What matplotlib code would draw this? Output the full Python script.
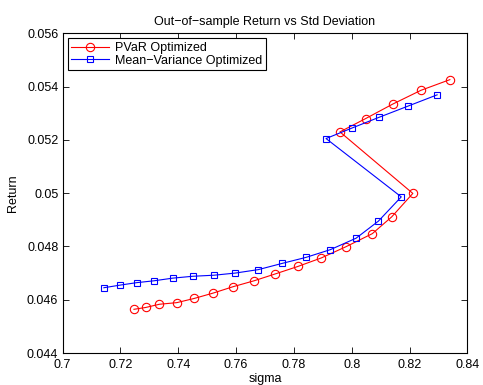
import matplotlib
matplotlib.use('Agg')
import matplotlib.pyplot as plt

# out-of-sample results
pvar_sigma = [0.7247, 0.7288, 0.7335, 0.7395, 0.7456, 0.7521, 0.7590, 0.7662, 0.7736, 0.7814,
              0.7895, 0.7980, 0.8071, 0.8138, 0.8211, 0.7959, 0.8048, 0.8141, 0.8239, 0.8339]
pvar_ret = [0.04564, 0.04571, 0.04583, 0.04589, 0.04605, 0.04625, 0.04649, 0.04671, 0.04697, 0.04725,
            0.04757, 0.04799, 0.04848, 0.04911, 0.04999, 0.05230, 0.05280, 0.05334, 0.05386, 0.05426]

mv_sigma = [0.7143, 0.7200, 0.7256, 0.7316, 0.7381, 0.7450, 0.7524, 0.7597, 0.7677, 0.7758,
            0.7842, 0.7926, 0.8015, 0.8092, 0.8171, 0.7911, 0.8002, 0.8095, 0.8195, 0.8295]
mv_ret = [0.04645, 0.04655, 0.04664, 0.04671, 0.04681, 0.04688, 0.04692, 0.04700, 0.04713, 0.04736,
          0.04759, 0.04788, 0.04831, 0.04895, 0.04986, 0.05205, 0.05245, 0.05285, 0.05327, 0.05369]

xticks = [0.7, 0.72, 0.74, 0.76, 0.78, 0.8, 0.82, 0.84]
xticklabels = ['0.7', '0.72', '0.74', '0.76', '0.78', '0.8', '0.82', '0.84']
yticks = [0.044, 0.046, 0.048, 0.05, 0.052, 0.054, 0.056]
yticklabels = ['0.044', '0.046', '0.048', '0.05', '0.052', '0.054', '0.056']

plt.rcParams['font.family'] = ['Liberation Sans', 'DejaVu Sans']
plt.rcParams['font.size'] = 9

fig = plt.figure(figsize=(4.83, 3.85), dpi=100)
ax = fig.add_axes([0.1294, 0.0831, 0.8385, 0.8304])

ax.plot(pvar_sigma, pvar_ret, color='red', lw=0.8, marker='o', ms=6,
        mfc='none', mec='red', mew=0.8, label='PVaR Optimized')
ax.plot(mv_sigma, mv_ret, color='blue', lw=0.8, marker='s', ms=5,
        mfc='none', mec='blue', mew=0.8, label='Mean\u2212Variance Optimized')

ax.set_xlim(0.7, 0.84)
ax.set_ylim(0.044, 0.056)
ax.set_xticks(xticks)
ax.set_xticklabels(xticklabels)
ax.set_yticks(yticks)
ax.set_yticklabels(yticklabels)
ax.tick_params(direction='in', top=True, right=True, length=4, width=0.6)
ax.tick_params(axis='x', pad=4)
ax.tick_params(axis='y', pad=3)
for s in ax.spines.values():
    s.set_linewidth(0.8)

ax.set_xlabel('sigma', labelpad=2)
ax.set_ylabel('Return', labelpad=6)
ax.set_title('Out\u2212of\u2212sample Return vs Std Deviation', fontsize=9, pad=6)

leg = ax.legend(loc='upper left', fancybox=False, edgecolor='black', framealpha=1,
                borderaxespad=0.4, handlelength=3.0, borderpad=0.3, labelspacing=0.05,
                handletextpad=0.5, fontsize=9)
leg.get_frame().set_linewidth(0.8)

fig.savefig('out.png', dpi=100)
